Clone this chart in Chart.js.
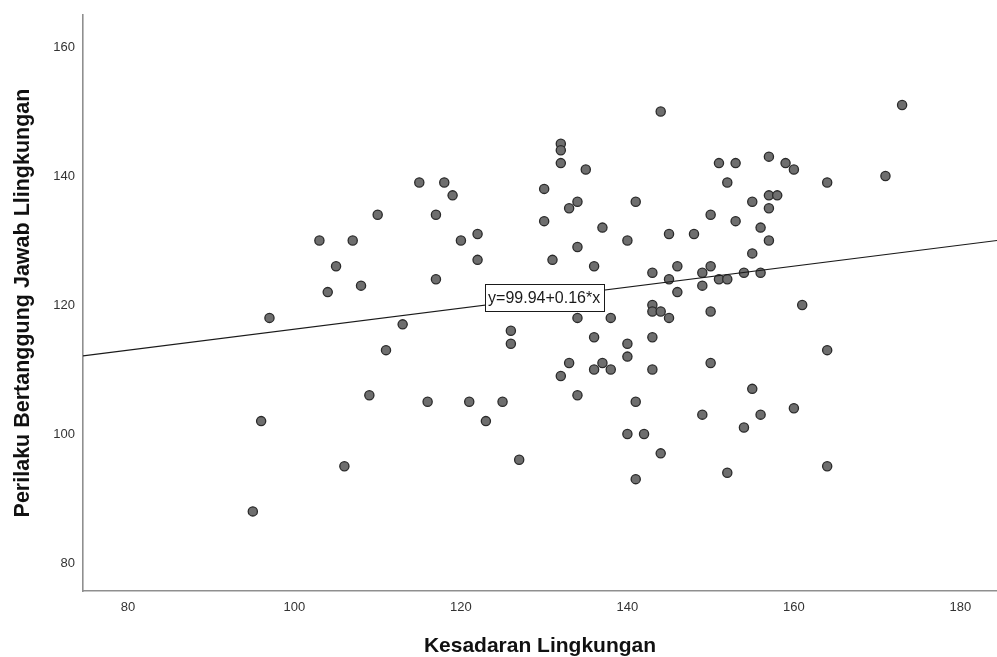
<!DOCTYPE html>
<html>
<head>
<meta charset="utf-8">
<script src="https://cdn.jsdelivr.net/npm/chart.js@4.4.1/dist/chart.umd.min.js"></script>
<style>
  html, body { margin: 0; padding: 0; background: #ffffff; }
  #wrap { width: 997px; height: 657px; position: relative; }
</style>
</head>
<body>
<div id="wrap"><canvas id="c" width="997" height="657"></canvas></div>
<script>
// ---- data ----
const xValues = [95, 96, 97, 103, 104, 105, 106, 107, 108, 109,
                 110, 111, 113, 115, 116, 117, 117, 118, 119, 120,
                 121, 122, 122, 123, 125, 126, 126, 127, 130, 130,
                 131, 132, 132, 132, 132, 133, 133, 134, 134, 134,
                 134, 135, 136, 136, 136, 137, 137, 138, 138, 140,
                 140, 140, 140, 141, 141, 141, 142, 143, 143, 143,
                 143, 143, 144, 144, 144, 145, 145, 145, 146, 146,
                 148, 149, 149, 149, 150, 150, 150, 150, 151, 151,
                 152, 152, 152, 153, 153, 154, 154, 155, 155, 155,
                 156, 156, 156, 157, 157, 157, 157, 158, 159, 160,
                 160, 161, 164, 164, 164, 171, 173];
const yValues = [88, 102, 118, 130, 122, 126, 95, 130, 123, 106,
                 134, 113, 117, 139, 105, 134, 124, 139, 137, 130,
                 105, 131, 127, 102, 105, 116, 114, 96, 138, 133,
                 127, 145, 144, 142, 109, 135, 111, 136, 129, 118,
                 106, 141, 126, 115, 110, 132, 111, 118, 110, 130,
                 114, 112, 100, 136, 105, 93, 100, 125, 120, 119,
                 115, 110, 150, 119, 97, 131, 124, 118, 126, 122,
                 131, 125, 123, 103, 134, 126, 119, 111, 142, 124,
                 139, 124, 94, 142, 133, 125, 101, 136, 128, 107,
                 132, 125, 103, 143, 137, 135, 130, 137, 142, 141,
                 104, 120, 139, 113, 95, 140, 151];
const xTicks = [80, 100, 120, 140, 160, 180];
const yTicks = [80, 100, 120, 140, 160];
const xRange = [74.6, 184.4];
const yRange = [75.66, 164.96];
const fitIntercept = 99.94;
const fitSlope = 0.163;
const fitLabel = 'y=99.94+0.16*x';
const fitLabelAtX = 130;
const xTitle = 'Kesadaran Lingkungan';
const yTitle = 'Perilaku Bertanggung Jawab Llingkungan';

// ---- build datasets ----
const points = xValues.map((x, i) => ({ x: x, y: yValues[i] }));
const fitLine = xRange.map(x => ({ x: x, y: fitIntercept + fitSlope * x }));

const FONT = '"Liberation Sans", Arial, sans-serif';

const fitLabelPlugin = {
  id: 'fitLabel',
  afterDatasetsDraw(chart) {
    const ctx = chart.ctx;
    const xs = chart.scales.x, ys = chart.scales.y;
    const cx = xs.getPixelForValue(fitLabelAtX);
    const cy = ys.getPixelForValue(fitIntercept + fitSlope * fitLabelAtX);
    ctx.save();
    ctx.font = '16px ' + FONT;
    const tw = ctx.measureText(fitLabel).width;
    const w = Math.round(tw + 7), h = 27;
    const left = Math.round(cx - w / 2) + 0.5, top = Math.round(cy - h / 2) + 0.5;
    ctx.fillStyle = '#ffffff';
    ctx.fillRect(left, top, w, h);
    ctx.strokeStyle = '#1a1a1a';
    ctx.lineWidth = 1;
    ctx.strokeRect(left, top, w, h);
    ctx.fillStyle = '#1a1a1a';
    ctx.textAlign = 'center';
    ctx.textBaseline = 'middle';
    ctx.fillText(fitLabel, cx, top + h / 2 + 1);
    ctx.restore();
  }
};

new Chart(document.getElementById('c'), {
  type: 'scatter',
  data: {
    datasets: [
      {
        type: 'line',
        data: fitLine,
        borderColor: '#1a1a1a',
        borderWidth: 1.2,
        pointRadius: 0,
        fill: false,
        order: 0
      },
      {
        data: points,
        backgroundColor: '#6e6e6e',
        borderColor: '#2a2a2a',
        borderWidth: 1.3,
        pointRadius: 4.6,
        order: 1
      }
    ]
  },
  options: {
    responsive: false,
    animation: false,
    events: [],
    layout: { autoPadding: false, padding: { top: 15, right: 0, bottom: 0, left: 0 } },
    plugins: { legend: { display: false }, tooltip: { enabled: false } },
    scales: {
      x: {
        type: 'linear',
        min: xRange[0],
        max: xRange[1],
        afterBuildTicks: s => { s.ticks = xTicks.map(v => ({ value: v })); },
        afterFit: s => { s.height = 66; s.paddingLeft = 0; s.paddingRight = 0; },
        grid: { display: false, drawTicks: false },
        border: { display: true, color: '#8f8f8f', width: 1.6 },
        ticks: { color: '#333333', padding: 9, font: { family: FONT, size: 13 }, maxRotation: 0, autoSkip: false },
        title: {
          display: true, text: xTitle, color: '#111111',
          font: { family: FONT, size: 21, weight: 'bold', lineHeight: 1 },
          padding: { top: 0, bottom: 0 }
        }
      },
      y: {
        type: 'linear',
        min: yRange[0],
        max: yRange[1],
        afterBuildTicks: s => { s.ticks = yTicks.map(v => ({ value: v })); },
        afterFit: s => { s.width = 83; s.paddingTop = 0; s.paddingBottom = 0; },
        grid: { display: false, drawTicks: false },
        border: { display: true, color: '#8f8f8f', width: 1.6 },
        ticks: { color: '#333333', padding: 8, font: { family: FONT, size: 13 }, autoSkip: false },
        title: {
          display: true, text: yTitle, color: '#111111',
          font: { family: FONT, size: 21.5, weight: 'bold', lineHeight: 1 },
          padding: { top: 12, bottom: 0 }
        }
      }
    }
  },
  plugins: [fitLabelPlugin]
});
</script>
</body>
</html>
